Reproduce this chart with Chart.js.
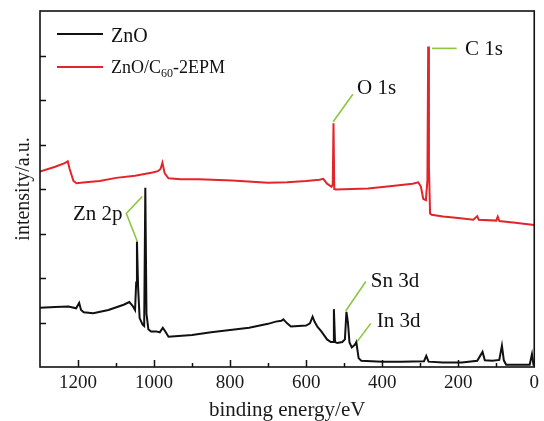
<!DOCTYPE html>
<html lang="en">
<head>
    <meta charset="UTF-8">
    <title>XPS survey spectra</title>
    <script src="https://cdn.jsdelivr.net/npm/chart.js"></script>
    <style>
        html, body { margin: 0; padding: 0; background: #fff; }
        #wrap { width: 544px; height: 421px; }
    </style>
</head>
<body>
    <div id="wrap"><canvas id="xps"></canvas></div>

    <script>
        // binding energy (eV) and intensity (a.u.)
        const znoEnergy = [1300, 1260, 1225, 1205, 1197, 1192, 1185, 1160, 1120, 1080, 1065, 1057, 1050, 1047, 1045, 1042, 1038, 1030, 1026, 1023, 1020, 1015, 1008, 995, 985, 977, 972, 962, 900, 850, 800, 750, 700, 680, 665, 660, 650, 640, 600, 590, 583, 578, 570, 560, 545, 535, 529, 527, 524, 518, 505, 498, 494, 490, 486, 480, 472, 468, 462, 455, 400, 350, 290, 284, 278, 240, 190, 150, 136, 130, 110, 92, 85, 80, 74, 40, 12, 6, 2, 0];
        const znoIntensity = [1.33, 1.35, 1.36, 1.32, 1.44, 1.28, 1.23, 1.21, 1.28, 1.40, 1.46, 1.38, 1.28, 1.9, 2.82, 1.8, 1.1, 0.95, 0.92, 4.03, 1.2, 0.85, 0.80, 0.80, 0.78, 0.88, 0.82, 0.68, 0.72, 0.78, 0.83, 0.88, 0.97, 1.02, 1.04, 1.07, 0.98, 0.91, 0.93, 0.98, 1.13, 1.02, 0.90, 0.80, 0.62, 0.56, 0.56, 1.30, 0.56, 0.54, 0.56, 0.62, 1.24, 1.0, 0.55, 0.44, 0.50, 0.56, 0.20, 0.14, 0.12, 0.12, 0.13, 0.25, 0.12, 0.10, 0.10, 0.14, 0.34, 0.15, 0.14, 0.16, 0.48, 0.15, 0.05, 0.05, 0.05, 0.29, 0.05, 0.05];

        const c60Energy = [1300, 1260, 1235, 1227, 1222, 1212, 1204, 1180, 1143, 1100, 1050, 1004, 990, 983, 978, 972, 962, 930, 882, 795, 700, 650, 600, 565, 555, 545, 533, 530, 528, 526, 522, 480, 437, 380, 320, 305, 298, 292, 285, 281, 279, 277, 274, 270, 240, 200, 160, 150, 146, 100, 96, 92, 50, 0];
        const c60Intensity = [4.39, 4.50, 4.58, 4.62, 4.45, 4.18, 4.13, 4.15, 4.18, 4.25, 4.30, 4.37, 4.40, 4.45, 4.59, 4.35, 4.24, 4.22, 4.22, 4.19, 4.14, 4.15, 4.18, 4.21, 4.23, 4.12, 4.05, 4.1, 5.48, 4.0, 3.99, 4.00, 4.01, 4.06, 4.12, 4.15, 4.05, 3.78, 3.75, 4.2, 7.2, 4.5, 3.45, 3.42, 3.38, 3.35, 3.31, 3.39, 3.31, 3.29, 3.38, 3.28, 3.24, 3.19];

        const seriesNames = ['ZnO', 'ZnO/C60-2EPM'];
        const xTickValues = [0, 200, 400, 600, 800, 1000, 1200];

        // peak labels: text, anchor point and leader line, all in (eV, a.u.)
        const peakNotes = [
            { text: 'Zn 2p', align: 'right', at: [1083, 3.30], path: [[1031, 3.83], [1073, 3.45], [1044, 2.82]] },
            { text: 'O 1s', align: 'left', at: [466, 6.13], path: [[477, 6.13], [529, 5.51]] },
            { text: 'C 1s', align: 'left', at: [182, 7.01], path: [[269, 7.16], [204, 7.16]] },
            { text: 'Sn 3d', align: 'left', at: [430, 1.79], path: [[443, 1.92], [496, 1.26]] },
            { text: 'In 3d', align: 'left', at: [414, 0.91], path: [[430, 0.98], [466, 0.57]] }
        ];

        const toPoints = (xs, ys) => xs.map((e, i) => ({ x: e, y: ys[i] }));
        const serif = '"Liberation Serif", "Times New Roman", serif';

        // frame, inward ticks, peak labels and legend
        const decorations = {
            id: 'decorations',
            afterDatasetsDraw(chart) {
                const { ctx, chartArea: a, scales: { x, y } } = chart;
                ctx.save();
                ctx.strokeStyle = '#111';
                ctx.lineWidth = 1.5;
                x.ticks.forEach(t => {
                    if (t.value <= 0 || t.value >= 1300) return;
                    const px = Math.round(x.getPixelForValue(t.value)) + 0.5;
                    const len = t.value % 200 === 0 ? 7 : 4;
                    ctx.beginPath();
                    ctx.moveTo(px, a.bottom);
                    ctx.lineTo(px, a.bottom - len);
                    ctx.stroke();
                });
                y.ticks.forEach(t => {
                    if (t.value <= 0 || t.value >= 8) return;
                    const py = Math.round(y.getPixelForValue(t.value)) + 0.5;
                    ctx.beginPath();
                    ctx.moveTo(a.left, py);
                    ctx.lineTo(a.left + 6, py);
                    ctx.stroke();
                });
                ctx.lineWidth = 1.6;
                ctx.strokeRect(a.left, a.top, a.right - a.left, a.bottom - a.top);

                // peak labels
                ctx.font = '21px ' + serif;
                ctx.textBaseline = 'alphabetic';
                peakNotes.forEach(n => {
                    ctx.strokeStyle = '#8cc63f';
                    ctx.lineWidth = 1.6;
                    ctx.beginPath();
                    n.path.forEach(([e, v], i) => {
                        const px = x.getPixelForValue(e), py = y.getPixelForValue(v);
                        if (i) ctx.lineTo(px, py); else ctx.moveTo(px, py);
                    });
                    ctx.stroke();
                    ctx.fillStyle = '#111';
                    ctx.textAlign = n.align;
                    ctx.fillText(n.text, x.getPixelForValue(n.at[0]), y.getPixelForValue(n.at[1]));
                });

                // legend
                const colors = chart.data.datasets.map(d => d.borderColor);
                const lx = a.left + 17, tx = a.left + 71;
                ctx.textAlign = 'left';
                ctx.lineWidth = 2;
                ctx.strokeStyle = colors[0];
                ctx.beginPath(); ctx.moveTo(lx, a.top + 23); ctx.lineTo(lx + 46, a.top + 23); ctx.stroke();
                ctx.font = '20px ' + serif;
                ctx.fillText(seriesNames[0], tx, a.top + 31);

                ctx.strokeStyle = colors[1];
                ctx.beginPath(); ctx.moveTo(lx, a.top + 56); ctx.lineTo(lx + 46, a.top + 56); ctx.stroke();
                const base = a.top + 62;
                ctx.font = '18px ' + serif;
                let cx = tx;
                ctx.fillText('ZnO/C', cx, base);
                cx += ctx.measureText('ZnO/C').width;
                ctx.font = '12px ' + serif;
                ctx.fillText('60', cx, base + 4);
                cx += ctx.measureText('60').width;
                ctx.font = '18px ' + serif;
                ctx.fillText('-2EPM', cx, base);
                ctx.restore();
            }
        };

        const ctx = document.getElementById('xps').getContext('2d');
        new Chart(ctx, {
            type: 'line',
            data: {
                datasets: [
                    {
                        label: seriesNames[0],
                        data: toPoints(znoEnergy, znoIntensity),
                        borderColor: '#111111',
                        borderWidth: 2,
                        pointRadius: 0,
                        tension: 0
                    },
                    {
                        label: seriesNames[1],
                        data: toPoints(c60Energy, c60Intensity),
                        borderColor: '#e3242b',
                        borderWidth: 2,
                        pointRadius: 0,
                        tension: 0
                    }
                ]
            },
            options: {
                responsive: true,
                maintainAspectRatio: false,
                animation: false,
                layout: { padding: { top: 11, right: 5, left: 0, bottom: 0 } },
                plugins: {
                    legend: { display: false },
                    tooltip: { enabled: false }
                },
                scales: {
                    x: {
                        type: 'linear',
                        reverse: true,
                        min: 0,
                        max: 1300,
                        afterFit: s => { s.height = 54; },
                        grid: { display: false, drawTicks: false },
                        border: { display: false },
                        ticks: {
                            stepSize: 100,
                            autoSkip: false,
                            maxRotation: 0,
                            padding: 5,
                            color: '#1a1a1a',
                            font: { family: serif, size: 19 },
                            callback: v => xTickValues.includes(v) ? String(v) : ''
                        },
                        title: {
                            display: true,
                            text: 'binding energy/eV',
                            color: '#1a1a1a',
                            font: { family: serif, size: 21, lineHeight: 1 },
                            padding: { top: 0, bottom: 0 }
                        }
                    },
                    y: {
                        min: 0,
                        max: 8,
                        afterFit: s => { s.width = 40; },
                        grid: { display: false, drawTicks: false },
                        border: { display: false },
                        ticks: { display: false, stepSize: 1 },
                        title: {
                            display: true,
                            text: 'intensity/a.u.',
                            color: '#1a1a1a',
                            font: { family: serif, size: 20, lineHeight: 1 },
                            padding: { top: 14, bottom: 0 }
                        }
                    }
                }
            },
            plugins: [decorations]
        });
    </script>
</body>
</html>
